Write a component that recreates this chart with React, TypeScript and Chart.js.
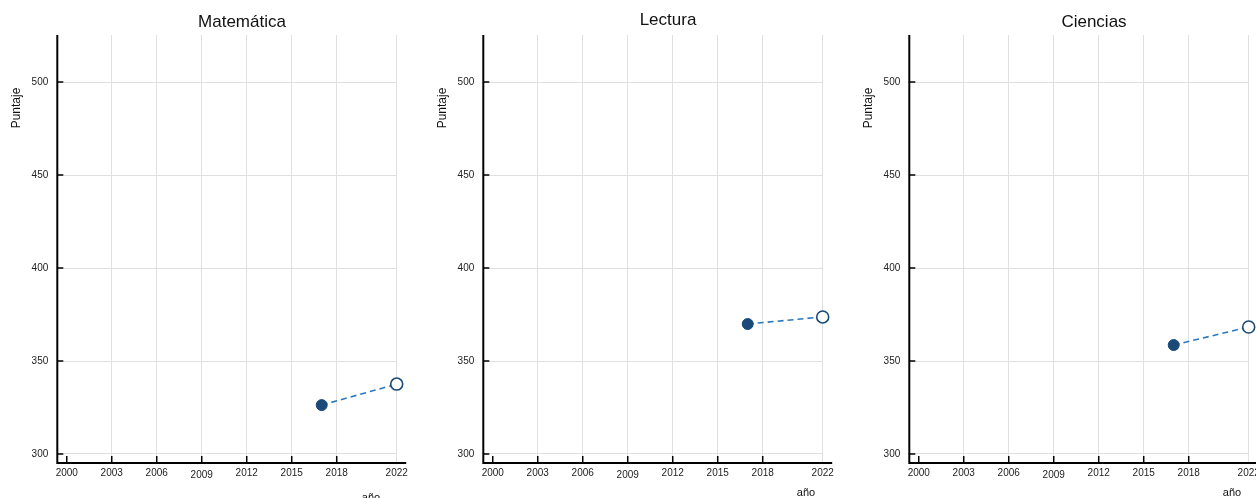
import React, { useEffect, useRef } from 'react';
import { Chart, registerables } from 'chart.js';

Chart.register(...registerables);

// ---- data ----
const years = [2017, 2022];
const matematica = [326.3, 337.6];
const lectura = [369.9, 373.7];
const ciencias = [358.6, 368.3];
const xTickYears = [2000, 2003, 2006, 2009, 2012, 2015, 2018, 2022];
const yTickValues = [300, 350, 400, 450, 500];
const panelTitles = ['Matemática', 'Lectura', 'Ciencias'];
const yAxisTitle = 'Puntaje';
const xAxisTitle = 'año';

const FONT = '"Liberation Sans", Arial, Helvetica, sans-serif';
const W = 426;
const H = 498;

type Panel = {
  title: string;
  values: number[];
  left: number;
  titleBaseline: number;
  xTitleX: number;
  xTitleBaseline: number;
};

const panels: Panel[] = [
  { title: panelTitles[0], values: matematica, left: 0, titleBaseline: 27, xTitleX: 371, xTitleBaseline: 501 },
  { title: panelTitles[1], values: lectura, left: 426, titleBaseline: 25, xTitleX: 380, xTitleBaseline: 496 },
  { title: panelTitles[2], values: ciencias, left: 852, titleBaseline: 27, xTitleX: 380, xTitleBaseline: 496 },
];

function makeDecor(p: Panel) {
  return {
    id: 'decor',
    afterDraw(chart: any) {
      const ctx = chart.ctx as CanvasRenderingContext2D;
      const a = chart.chartArea;
      const xs = chart.scales.x;
      const ys = chart.scales.y;
      ctx.save();
      // axis lines
      ctx.strokeStyle = '#000';
      ctx.lineWidth = 2;
      ctx.beginPath();
      ctx.moveTo(a.left, a.top);
      ctx.lineTo(a.left, a.bottom + 1);
      ctx.moveTo(a.left - 1, a.bottom);
      ctx.lineTo(a.right + 9.5, a.bottom);
      ctx.stroke();
      // inward tick marks
      ctx.lineWidth = 1.5;
      ctx.beginPath();
      yTickValues.forEach((v) => {
        const y = ys.getPixelForValue(v);
        ctx.moveTo(a.left, y);
        ctx.lineTo(a.left + 6, y);
      });
      xTickYears.forEach((v) => {
        if (v === 2022) return;
        const x = xs.getPixelForValue(v);
        ctx.moveTo(x, a.bottom);
        ctx.lineTo(x, a.bottom - 7);
      });
      ctx.stroke();
      // panel title
      ctx.fillStyle = '#111';
      ctx.font = `17px ${FONT}`;
      ctx.textAlign = 'center';
      ctx.textBaseline = 'alphabetic';
      ctx.fillText(p.title, 242, p.titleBaseline);
      // x axis title
      ctx.font = `11px ${FONT}`;
      ctx.fillText(xAxisTitle, p.xTitleX, p.xTitleBaseline);
      // y axis title
      ctx.translate(20, 108);
      ctx.rotate(-Math.PI / 2);
      ctx.font = `12px ${FONT}`;
      ctx.fillText(yAxisTitle, 0, 0);
      ctx.restore();
    },
  };
}

function PanelChart({ p }: { p: Panel }) {
  const ref = useRef<HTMLCanvasElement | null>(null);
  useEffect(() => {
    if (!ref.current) return;
    const chart = new Chart(ref.current, {
      type: 'line',
      data: {
        datasets: [
          {
            data: years.map((y, i) => ({ x: y, y: p.values[i] })),
            borderColor: '#2b78bf',
            borderWidth: 1.6,
            borderDash: [6, 4],
            pointRadius: [5.5, 6],
            pointBorderWidth: [1, 1.6],
            pointBackgroundColor: ['#1b4a78', '#ffffff'],
            pointBorderColor: '#1b4a78',
            clip: false as any,
            fill: false,
          },
        ],
      },
      options: {
        responsive: false,
        animation: false,
        devicePixelRatio: 1,
        layout: { padding: { top: 35, right: W - 396.7, left: 0, bottom: 0 } },
        plugins: {
          legend: { display: false },
          title: { display: false },
          tooltip: { enabled: false },
        },
        scales: {
          x: {
            type: 'linear',
            min: 1999.37,
            max: 2022,
            afterBuildTicks: (s: any) => {
              s.ticks = xTickYears.map((v) => ({ value: v }));
            },
            afterFit: (s: any) => {
              s.height = 35;
            },
            ticks: {
              autoSkip: false,
              maxRotation: 0,
              padding: 4,
              color: '#222',
              font: (c: any) => ({
                family: FONT,
                size: 10,
                lineHeight: c.tick && c.tick.value === 2009 ? 1.6 : 1.2,
              }),
              callback: (v: any) => String(v),
            },
            grid: {
              drawTicks: false,
              color: (c: any) => (c.tick && c.tick.value === 2000 ? 'rgba(0,0,0,0)' : '#e0e0e0'),
              lineWidth: 1,
            },
            border: { display: false },
          },
          y: {
            type: 'linear',
            min: 295.16,
            max: 525.3,
            afterBuildTicks: (s: any) => {
              s.ticks = yTickValues.map((v) => ({ value: v }));
            },
            afterFit: (s: any) => {
              s.width = 57.3;
            },
            ticks: {
              padding: 9,
              color: '#222',
              font: { family: FONT, size: 10 },
              callback: (v: any) => String(v),
            },
            grid: { drawTicks: false, color: '#e0e0e0', lineWidth: 1 },
            border: { display: false },
          },
        },
      },
      plugins: [makeDecor(p)],
    });
    return () => chart.destroy();
  }, [p]);
  return (
    <div style={{ position: 'absolute', left: p.left, top: 0, width: W, height: H }}>
      <canvas ref={ref} width={W} height={H} style={{ width: W, height: H, display: 'block' }} />
    </div>
  );
}

export default function App() {
  return (
    <div
      style={{
        position: 'fixed',
        left: 0,
        top: 0,
        width: 1256,
        height: 498,
        overflow: 'hidden',
        background: '#fff',
      }}
    >
      {panels.map((p) => (
        <PanelChart key={p.title} p={p} />
      ))}
    </div>
  );
}
